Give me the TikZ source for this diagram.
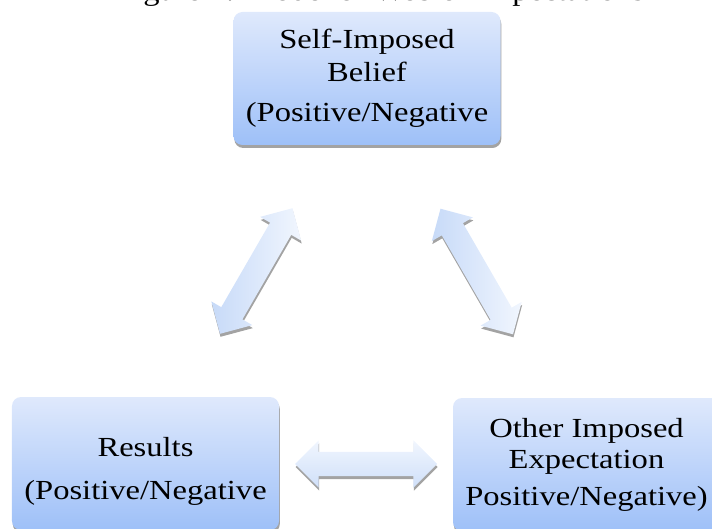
\documentclass[tikz,border=0pt]{standalone}
\usepackage{fontspec}
\setmainfont{Liberation Serif}[FakeStretch=1.18]
\usetikzlibrary{shapes.arrows, shadows, calc}

\definecolor{boxtop}{RGB}{223,233,252}
\definecolor{boxbot}{RGB}{158,192,248}
\definecolor{arrtop}{RGB}{241,246,254}
\definecolor{arrbot}{RGB}{199,218,248}

\tikzset{
	stage/.style={rectangle, rounded corners=9bp, minimum width=267bp, minimum height=133bp,
		inner sep=0pt, align=center, top color=boxtop, bottom color=boxbot,
		drop shadow={shadow xshift=0.8bp, shadow yshift=-3bp, fill=black!60, opacity=.6},
		font=\fontsize{27.6bp}{31bp}\selectfont},
	link/.style={double arrow, double arrow head extend=11.5bp, double arrow tip angle=90,
		minimum height=145bp, text height=12bp, text depth=12bp, inner sep=0pt,
		top color=arrtop, bottom color=arrbot!80!arrtop,
		drop shadow={shadow xshift=0.5bp, shadow yshift=-3bp, fill=black!60, opacity=.6}},
	slant/.style={left color=arrbot, right color=arrtop}
}

\begin{document}
\begin{tikzpicture}[x=1bp, y=-1bp]

	\useasboundingbox (0,0) rectangle (712,529);
	\clip (0,0) rectangle (712,529);

	\node[anchor=base west, inner sep=0pt, font=\fontsize{27.6bp}{31bp}\selectfont] (caption) at (116,0.5) {Figure 2: Model of Web of Expectations};

	\node[stage] (belief) at (367,78.5) {Self-Imposed\\[2bp]Belief\\[9bp](Positive/Negative};
	\node[stage] (results) at (145.5,463.5) {\rule{0pt}{35bp}Results\\[12bp](Positive/Negative};
	\node[stage] (other) at (586.5,464.5) {Other Imposed\\Expectation\\[6bp]Positive/Negative)};

	\node[link, slant, rotate=60] (beliefresults) at ($(belief)!0.5!(results)$) {};
	\node[link, slant, rotate=120] (beliefother) at ($(belief)!0.5!(other)$) {};
	\node[link, minimum height=142bp] (resultsother) at ($(results.east)!0.5!(other.west)$) {};

\end{tikzpicture}
\end{document}
